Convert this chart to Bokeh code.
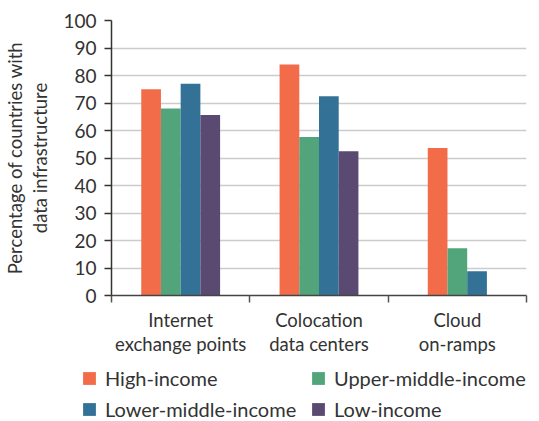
from bokeh.plotting import figure
from bokeh.layouts import column, row
from bokeh.models import FixedTicker, LinearAxis, Legend, LegendItem, Range1d
from bokeh.embed import file_html
from bokeh.resources import INLINE

categories = ["Internet\nexchange points", "Colocation\ndata centers", "Cloud\non-ramps"]
series = ["High-income", "Upper-middle-income", "Lower-middle-income", "Low-income"]
high_income = [75, 84, 53.6]
upper_middle_income = [68, 57.6, 17.2]
lower_middle_income = [77, 72.5, 8.8]
low_income = [65.6, 52.5, None]
colors = ["#F26C4A", "#52A57A", "#337296", "#5A4A72"]
y_ticks = list(range(0, 101, 10))

values = [high_income, upper_middle_income, lower_middle_income, low_income]

FONT = "Lato"
TXT = "#333333"
BAR_W = 0.1425
LEG_H = 55

p = figure(width=539, height=421 - LEG_H, output_backend="svg", toolbar_location=None,
           x_range=Range1d(0, len(categories)), y_range=Range1d(0, 100),
           min_border_left=111, min_border_right=13, min_border_top=20,
           min_border_bottom=421 - LEG_H - 295, x_axis_type=None)
p.outline_line_color = None
p.background_fill_color = "white"

for i in range(len(categories)):
    present = [j for j in range(len(series)) if values[j][i] is not None]
    n = len(present)
    for k, j in enumerate(present):
        xc = i + 0.5 + (k - (n - 1) / 2) * BAR_W
        p.vbar(x=[xc], top=[values[j][i]], width=BAR_W, bottom=0,
               fill_color=colors[j], line_color=None)

yax = p.yaxis[0]
yax.ticker = FixedTicker(ticks=y_ticks)
yax.axis_label = "Percentage of countries with\ndata infrastructure"
yax.axis_label_text_font = FONT
yax.axis_label_text_font_size = "18.5px"
yax.axis_label_text_font_style = "normal"
yax.axis_label_text_color = TXT
yax.axis_label_text_line_height = 1.15
yax.axis_label_standoff = 9
yax.major_label_text_font = FONT
yax.major_label_text_font_size = "19px"
yax.major_label_text_color = TXT
yax.major_label_standoff = 8
yax.major_tick_out = 7
yax.major_tick_in = 0
yax.minor_tick_out = 0
yax.minor_tick_in = 0
yax.axis_line_color = "#333333"
yax.axis_line_width = 1.5
yax.major_tick_line_color = "#333333"
yax.major_tick_line_width = 1.5

p.ygrid.grid_line_color = "#cccccc"
p.ygrid.grid_line_width = 1.3
p.xgrid.grid_line_color = None

xax = LinearAxis(ticker=FixedTicker(ticks=list(range(len(categories) + 1))),
                 major_label_overrides={t: "" for t in range(len(categories) + 1)},
                 major_label_text_font_size="1px", major_label_standoff=0,
                 major_tick_out=7, major_tick_in=0, minor_tick_out=0, minor_tick_in=0,
                 axis_line_color="#444444", axis_line_width=1.5,
                 major_tick_line_color="#555555", major_tick_line_width=1.5)
p.add_layout(xax, "below")

centres = [i + 0.5 for i in range(len(categories))]
lab = LinearAxis(ticker=FixedTicker(ticks=centres),
                 major_label_overrides={c: categories[i] for i, c in enumerate(centres)},
                 major_label_text_font=FONT, major_label_text_font_size="18.5px",
                 major_label_text_color=TXT, major_label_standoff=6,
                 major_label_text_line_height=1.1,
                 major_tick_out=0, major_tick_in=0, minor_tick_out=0, minor_tick_in=0,
                 axis_line_color=None)
p.add_layout(lab, "below")

# legend in its own strip
q = figure(width=539, height=LEG_H, output_backend="svg", toolbar_location=None,
           x_range=Range1d(0, 1), y_range=Range1d(0, 1),
           min_border_left=0, min_border_right=0, min_border_top=0, min_border_bottom=0,
           x_axis_type=None, y_axis_type=None)
q.outline_line_color = None
q.xgrid.grid_line_color = None
q.ygrid.grid_line_color = None
items = []
for s, c in zip(series, colors):
    r = q.vbar(x=[0], top=[0], width=0.1, fill_color=c, line_color=None, visible=False)
    items.append(LegendItem(label=s, renderers=[r]))
legend = Legend(items=items, location=(81, 0), orientation="horizontal", ncols=2,
                label_text_font=FONT, label_text_font_size="20px", label_text_color=TXT,
                glyph_width=16, glyph_height=16, label_standoff=8, spacing=7,
                padding=0, margin=0, border_line_color=None, background_fill_alpha=0,
                label_height=20, label_width=198, inactive_fill_alpha=0)
q.add_layout(legend, "center")

open("out.html", "w").write(file_html(column(p, row(q), spacing=0), INLINE))
